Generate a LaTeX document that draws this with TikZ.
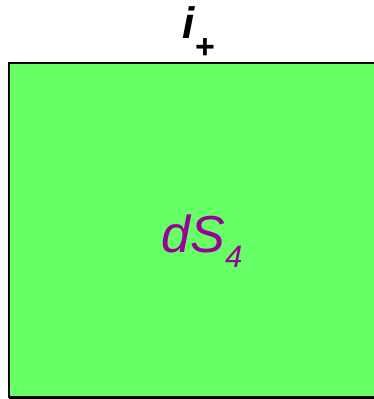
\documentclass[tikz,border=0pt]{standalone}
\usepackage{fontspec}
\setmainfont{Liberation Sans}
\definecolor{sqgreen}{HTML}{66FF66}
\definecolor{dspurple}{HTML}{990099}
\begin{document}
\begin{tikzpicture}[x=1pt,y=-1pt,
  lbl/.style={inner sep=0pt,anchor=base}]
\useasboundingbox (0,0) rectangle (373,399);
\fill[sqgreen] (9,63) rectangle (380,397);
\draw[black,line width=2.5pt] (9,398) -- (9,63) -- (380,63);
\draw[black,line width=2.5pt] (9,397.5) -- (380,397.5);
\node[lbl] (ip) at (199,38) {\fontsize{44}{44}\selectfont\bfseries\itshape i\raisebox{-20pt}{\fontsize{34}{34}\selectfont\upshape +}};
\node[lbl,text=dspurple] (ds) at (202,252) {\fontsize{52}{52}\selectfont\itshape dS\raisebox{-15pt}{\fontsize{31}{31}\selectfont 4}};
\end{tikzpicture}
\end{document}
